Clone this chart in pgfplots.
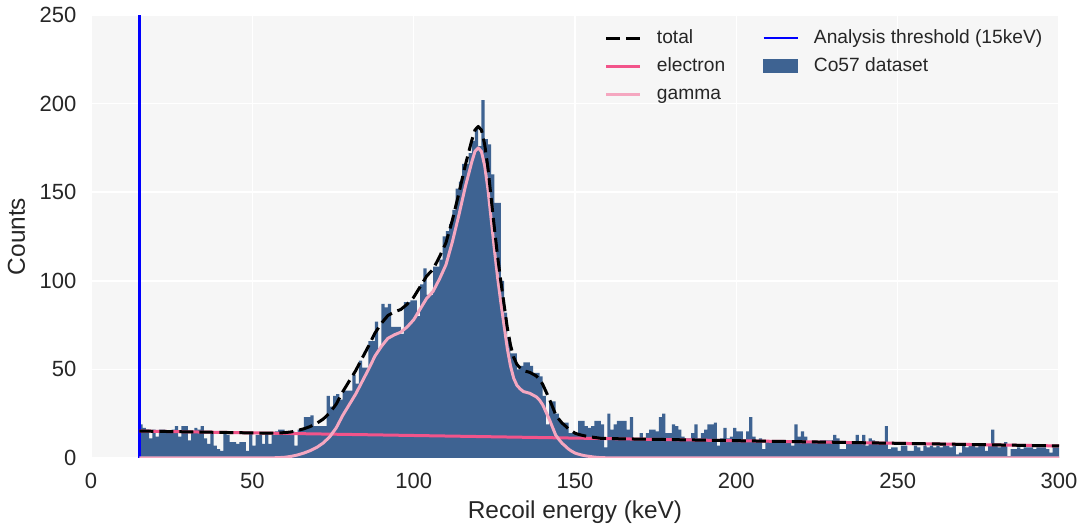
\documentclass[border=0pt]{standalone}
\usepackage{pgfplots}
\pgfplotsset{compat=1.18}
\usepackage{fontspec}
\setmainfont{Liberation Sans}

\definecolor{bgc}{RGB}{246,246,246}
\definecolor{histc}{RGB}{62,99,146}
\definecolor{elec}{RGB}{242,84,138}
\definecolor{gam}{RGB}{245,167,192}
\definecolor{txt}{RGB}{38,38,38}

\newcommand{\tickfont}{\fontsize{11}{13}\selectfont}
\newcommand{\labfont}{\fontsize{12.2}{14}\selectfont}
\newcommand{\legfont}{\fontsize{9.6}{11.5}\selectfont}

\begin{document}
\begin{tikzpicture}
\begin{axis}[
  scale only axis, width=484pt, height=221.5pt,
  xmin=0, xmax=300, ymin=0, ymax=250,
  xtick={0,50,...,300}, ytick={0,50,...,250},
  axis background/.style={fill=bgc},
  axis line style={draw=none}, tick style={draw=none},
  grid=major, grid style={white, line width=0.8pt},
  /pgf/number format/assume math mode=true,
  tick label style={font=\tickfont, text=txt},
  yticklabel style={xshift=-3.8pt},
  xticklabel style={yshift=-3.8pt},
  label style={font=\labfont, text=txt},
  xlabel={Recoil energy (keV)}, ylabel={Counts},
  xlabel style={at={(axis description cs:0.5,-0.1377)}, anchor=base},
  ylabel style={at={(axis description cs:-0.0682,0.5)}, anchor=base},
  legend columns=2,
  legend style={draw=none, fill=none, at={(0.9925,0.985)}, anchor=north east,
    font=\legfont, text=txt, row sep=2pt,
    nodes={text height=7pt, text depth=2pt, inner sep=1.5pt},
    /tikz/every odd column/.append style={column sep=6pt},
    /tikz/every even column/.append style={column sep=17pt}},
  legend cell align=left,
]
% Co57 histogram, 1 keV bins from 15 to 300 keV
\addplot[forget plot, fill=histc, draw=none, const plot mark left] coordinates {
(15,19)(16,17)(17,16)(18,11)(19,16)(20,12)(21,16)(22,16)(23,15)(24,15)
(25,16)(26,18)(27,12)(28,18)(29,18)(30,10)(31,14)(32,17)(33,16)(34,18)
(35,11)(36,8)(37,14)(38,7)(39,5)(40,4)(41,14)(42,13)(43,9)(44,9)
(45,8)(46,9)(47,9)(48,4)(49,14)(50,7)(51,13)(52,13)(53,8)(54,14)
(55,8)(56,13)(57,15)(58,16)(59,16)(60,14)(61,14)(62,15)(63,7)(64,16)
(65,16)(66,23)(67,23)(68,24)(69,18)(70,18)(71,18)(72,18)(73,35)(74,29)
(75,35)(76,36)(77,33)(78,38)(79,38)(80,38)(81,47)(82,42)(83,55)(84,51)
(85,51)(86,66)(87,66)(88,77)(89,62)(90,87)(91,85)(92,87)(93,74)(94,74)
(95,74)(96,70)(97,88)(98,88)(99,89)(100,89)(101,80)(102,98)(103,107)(104,92)
(105,92)(106,108)(107,108)(108,112)(109,125)(110,128)(111,132)(112,140)(113,152)(114,156)
(115,166)(116,166)(117,172)(118,179)(119,186)(120,176)(121,202)(122,180)(123,177)(124,160)
(125,144)(126,144)(127,100)(128,82)(129,68)(130,59)(131,59)(132,50)(133,52)(134,54)
(135,54)(136,52)(137,48)(138,48)(139,46)(140,35)(141,19)(142,32)(143,32)(144,25)
(145,21)(146,20)(147,20)(148,14)(149,14)(150,14)(151,21)(152,21)(153,18)(154,17)
(155,18)(156,21)(157,21)(158,19)(159,6)(160,25)(161,16)(162,19)(163,21)(164,21)
(165,21)(166,16)(167,23)(168,11)(169,11)(170,14)(171,11)(172,14)(173,16)(174,16)
(175,15)(176,23)(177,25)(178,14)(179,14)(180,19)(181,18)(182,16)(183,12)(184,11)
(185,11)(186,14)(187,19)(188,11)(189,14)(190,16)(191,19)(192,19)(193,20)(194,7)
(195,11)(196,17)(197,11)(198,12)(199,17)(200,15)(201,15)(202,10)(203,15)(204,23)
(205,12)(206,9)(207,11)(208,5)(209,10)(210,10)(211,10)(212,9)(213,9)(214,10)
(215,10)(216,10)(217,7)(218,19)(219,12)(220,15)(221,12)(222,9)(223,9)(224,9)
(225,9)(226,10)(227,10)(228,10)(229,10)(230,13)(231,11)(232,5)(233,5)(234,9)
(235,9)(236,9)(237,13)(238,9)(239,13)(240,7)(241,11)(242,10)(243,9)(244,9)
(245,9)(246,18)(247,5)(248,6)(249,6)(250,4)(251,7)(252,7)(253,4)(254,4)
(255,7)(256,6)(257,4)(258,7)(259,6)(260,7)(261,6)(262,7)(263,6)(264,7)
(265,7)(266,6)(267,7)(268,2)(269,3)(270,7)(271,6)(272,7)(273,7)(274,6)
(275,8)(276,7)(277,4)(278,7)(279,16)(280,7)(281,6)(282,7)(283,9)(284,1)
(285,5)(286,5)(287,6)(288,5)(289,6)(290,6)(291,6)(292,5)(293,6)(294,6)
(295,6)(296,5)(297,3)(298,6)(299,6)(300,6)
} \closedcycle;

% threshold
\addplot[forget plot, color=blue, line width=1.3pt] coordinates {(15,0)(15,250)};

% electron
\addplot[forget plot, color=elec, line width=1.5pt] coordinates {(15,15.2)(300,6.8)};

% gamma
\addplot[forget plot, color=gam, line width=1.5pt, line join=round] coordinates {
(15,0)(55,0)(58,0.2)(60,0.4)(62,0.9)(64,1.7)(66,2.8)(68,4.2)(70,6.0)(72,8.5)
(74,12)(76,17)(78,24)(80,30)(82,36)(84,43)(86,50)(88,57.5)(90,63)(92,67.5)
(94,69.5)(96,71)(98,74)(100,78)(102,84)(104,90)(106,94)(108,101)(110,109)(112,122)
(114,137)(116,153)(118,167)(119,173)(120,175)(121,173)(122,165)(123,152)(124,135)(125,118)
(126,102)(127,88)(128,75)(129,62)(130,52)(131,45)(132,41)(133,39)(134,37.5)(135,37)
(136,36.5)(137,35.5)(138,34.5)(139,32.7)(140,30)(141,26)(142,22)(143,17.5)(144,13)(145,10.5)
(146,8.3)(147,6.7)(148,5)(149,3.8)(150,2.8)(151,2.2)(152,1.7)(153,1.3)(154,1.0)(156,0.5)
(158,0.2)(162,0)(300,0)
};

% total
\addplot[forget plot, color=black, line width=1.5pt, dash pattern=on 7pt off 3pt, line join=round] coordinates {
(15,15.2)(55,14.0)(58,14.1)(60,14.3)(62,14.7)(64,15.5)(66,16.5)(68,17.8)(70,19.6)(72,22.0)
(74,25.5)(76,30.4)(78,37.3)(80,43.3)(82,49.2)(84,56.2)(86,63.1)(88,70.5)(90,76.0)(92,80.4)
(94,82.4)(96,83.8)(98,86.8)(100,90.7)(102,96.6)(104,102.6)(106,106.5)(108,113.5)(110,121.4)(112,134.3)
(114,149.3)(116,165.2)(118,179.2)(119,185.1)(120,187.1)(121,185.1)(122,177.0)(123,164.0)(124,147.0)(125,130.0)
(126,113.9)(127,99.9)(128,86.9)(129,73.8)(130,63.8)(131,56.8)(132,52.8)(133,50.8)(134,49.3)(135,48.8)
(136,48.3)(137,47.3)(138,46.3)(139,44.5)(140,41.5)(141,37.5)(142,33.5)(143,29.0)(144,24.5)(145,21.9)
(146,19.7)(147,18.1)(148,16.4)(149,15.2)(150,14.0)(151,13.4)(152,12.9)(153,12.5)(154,12.1)(156,11.6)
(158,11.1)(162,10.9)(300,6.8)
};

% legend, filled column by column
\addlegendimage{black, line width=1.5pt, dash pattern=on 7pt off 3pt}
\addlegendentry{total}
\addlegendimage{blue, line width=1.3pt}
\addlegendentry{Analysis threshold (15keV)}
\addlegendimage{elec, line width=1.5pt}
\addlegendentry{electron}
\addlegendimage{legend image code/.code={\fill[histc] (0cm,-0.11cm) rectangle (0.6cm,0.11cm);}}
\addlegendentry{Co57 dataset}
\addlegendimage{gam, line width=1.5pt}
\addlegendentry{gamma}
\end{axis}
\pgfresetboundingbox
\path (current axis.south west) ++(-45.5pt,-34.5pt) coordinate (bl);
\path (current axis.north east) ++(11pt,7.5pt) coordinate (tr);
\path[use as bounding box] (bl) rectangle (tr);
\end{tikzpicture}
\end{document}
